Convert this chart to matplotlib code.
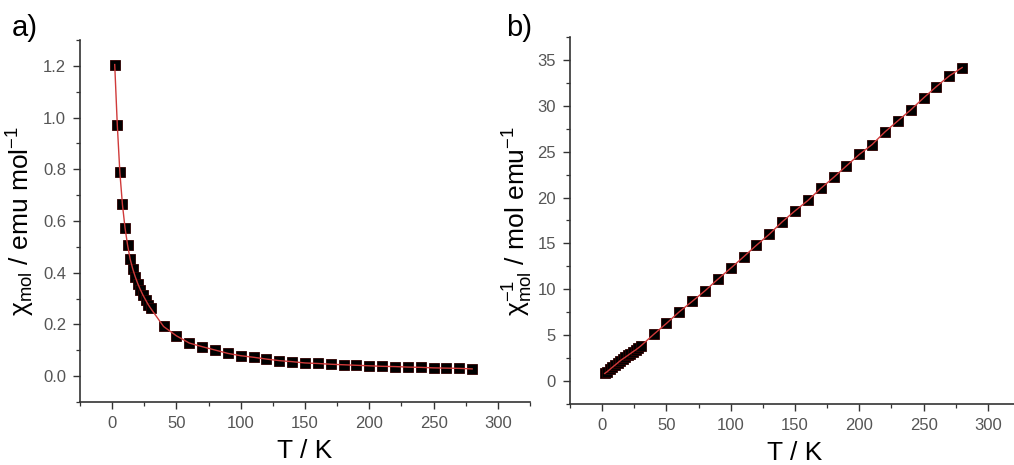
import matplotlib
matplotlib.use("Agg")
import matplotlib.pyplot as plt
from matplotlib.ticker import MultipleLocator

plt.rcParams['font.family'] = ['Liberation Sans', 'DejaVu Sans']
plt.rcParams['mathtext.fontset'] = 'custom'
plt.rcParams['mathtext.rm'] = 'Liberation Sans'
plt.rcParams['mathtext.it'] = 'Liberation Sans'
plt.rcParams['mathtext.default'] = 'regular'

# ---- data ----
T = [2, 4, 6, 8, 10, 12, 14, 16, 18, 20, 22, 24, 26, 28, 30,
     40, 50, 60, 70, 80, 90, 100, 110, 120, 130, 140, 150, 160, 170,
     180, 190, 200, 210, 220, 230, 240, 250, 260, 270, 280]
chi = [1.205, 0.972, 0.788, 0.664, 0.574, 0.507, 0.453, 0.415, 0.384, 0.357,
       0.334, 0.313, 0.295, 0.277, 0.262,
       0.192, 0.156, 0.128, 0.114, 0.101, 0.088, 0.079, 0.073, 0.066, 0.060,
       0.056, 0.051, 0.049, 0.046, 0.044, 0.042, 0.040, 0.038, 0.037, 0.035,
       0.034, 0.032, 0.031, 0.030, 0.028]
chi_inv = [0.83, 1.03, 1.27, 1.51, 1.74, 1.97, 2.21, 2.41, 2.60, 2.80,
           3.00, 3.20, 3.39, 3.60, 3.82,
           5.08, 6.28, 7.55, 8.68, 9.84, 11.10, 12.30, 13.54, 14.80, 16.00,
           17.35, 18.55, 19.68, 20.99, 22.19, 23.45, 24.70, 25.78, 27.16, 28.36,
           29.55, 30.86, 32.10, 33.26, 34.17]

xlabel = "T / K"
ylabel_a = "χ$_{mol}$ / emu mol$^{-1}$"
ylabel_b = "χ$_{mol}^{-1}$ / mol emu$^{-1}$"

fig = plt.figure(figsize=(10.14, 4.65), dpi=100)
axA = fig.add_axes([80/1014, 63/465, 450/1014, 362/465])
axB = fig.add_axes([570/1014, 61/465, 450/1014, 367/465])

marker_kw = dict(marker='s', markersize=7.2, markerfacecolor='black',
                 markeredgecolor='#300000', markeredgewidth=0.6, linestyle='none', zorder=3)
line_kw = dict(color='#d03a3a', linewidth=1.0, zorder=4)

axA.plot(T, chi, **marker_kw)
axA.plot(T, chi, **line_kw)
axB.plot(T, chi_inv, **marker_kw)
axB.plot(T, chi_inv, **line_kw)

axA.set_xlim(-25, 325)
axA.set_ylim(-0.1, 1.3)
axA.xaxis.set_minor_locator(MultipleLocator(25))
axA.set_yticks([0.0, 0.2, 0.4, 0.6, 0.8, 1.0, 1.2])
axA.set_yticklabels(["0.0", "0.2", "0.4", "0.6", "0.8", "1.0", "1.2"])
axA.yaxis.set_minor_locator(MultipleLocator(0.1))
axA.set_xticks([0, 50, 100, 150, 200, 250, 300])

axB.set_xlim(-25, 325)
axB.set_ylim(-2.5, 37.5)
axB.xaxis.set_minor_locator(MultipleLocator(25))
axB.set_yticks([0, 5, 10, 15, 20, 25, 30, 35])
axB.yaxis.set_minor_locator(MultipleLocator(2.5))
axB.set_xticks([0, 50, 100, 150, 200, 250, 300])

for ax in (axA, axB):
    for s in ('top', 'right'):
        ax.spines[s].set_visible(False)
    for s in ('left', 'bottom'):
        ax.spines[s].set_color('#333333')
        ax.spines[s].set_linewidth(1.2)
    ax.tick_params(which='major', direction='out', length=5, width=1.0,
                   color='#333333', labelsize=12, labelcolor='#555555', pad=5)
    ax.tick_params(which='minor', direction='out', length=3, width=0.9, color='#333333')
    ax.set_xlabel(xlabel, fontsize=19, labelpad=6)

axA.set_ylabel(ylabel_a, fontsize=19, labelpad=4)
axB.set_ylabel(ylabel_b, fontsize=19, labelpad=2)

fig.text(12/1014, 1 - 36/465, "a)", fontsize=21, va='baseline')
fig.text(506/1014, 1 - 36/465, "b)", fontsize=21, va='baseline')

fig.savefig("out.png", dpi=100)
